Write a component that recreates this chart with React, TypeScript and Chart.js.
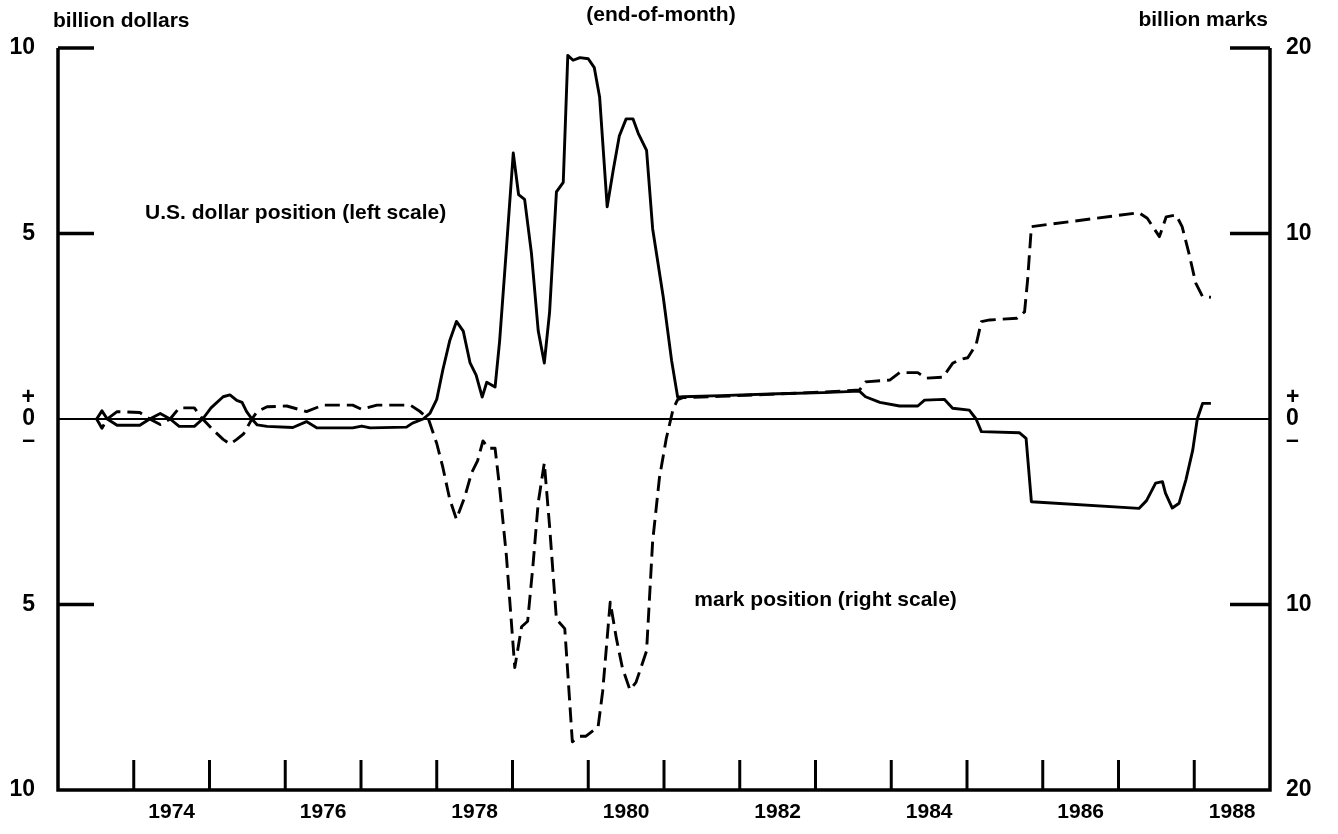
import React, { useEffect, useRef } from 'react';
import { Chart, registerables } from 'chart.js';

Chart.register(...registerables);

// U.S. dollar position, billion dollars (left scale), end-of-month
const dollarDates = [
  1973.51, 1973.58, 1973.65, 1973.78, 1974.08, 1974.21, 1974.35, 1974.48, 1974.6, 1974.8,
  1974.91, 1975.02, 1975.18, 1975.27, 1975.36, 1975.43, 1975.49, 1975.56, 1975.63, 1975.76,
  1976.1, 1976.28, 1976.42, 1976.89, 1977.01, 1977.12, 1977.6, 1977.68, 1977.82, 1977.91,
  1978.0, 1978.08, 1978.17, 1978.26, 1978.35, 1978.44, 1978.52, 1978.6, 1978.66, 1978.77,
  1978.83, 1978.92, 1979.01, 1979.08, 1979.16, 1979.25, 1979.34, 1979.42, 1979.49, 1979.58,
  1979.67, 1979.73, 1979.8, 1979.89, 1980.0, 1980.08, 1980.15, 1980.25, 1980.33, 1980.41,
  1980.5, 1980.59, 1980.66, 1980.77, 1980.85, 1980.99, 1981.1, 1981.18, 1981.25, 1981.75,
  1982.5, 1983.1, 1983.58, 1983.66, 1983.85, 1984.11, 1984.35, 1984.44, 1984.7, 1984.81,
  1985.03, 1985.12, 1985.19, 1985.69, 1985.78, 1985.85, 1987.27, 1987.37, 1987.49, 1987.58,
  1987.62, 1987.71, 1987.8, 1987.89, 1987.98, 1988.04, 1988.11, 1988.22,
];
const dollarValues = [
  0, 0.22, 0, -0.17, -0.17, 0, 0.15, 0, -0.2, -0.2,
  0, 0.3, 0.6, 0.65, 0.5, 0.45, 0.2, 0, -0.16, -0.2,
  -0.23, -0.07, -0.24, -0.24, -0.19, -0.24, -0.22, -0.11, 0, 0.15,
  0.53, 1.32, 2.1, 2.63, 2.37, 1.51, 1.18, 0.59, 0.99, 0.86,
  2.1, 4.6, 7.17, 6.05, 5.92, 4.47, 2.37, 1.51, 2.89, 6.12,
  6.38, 9.8, 9.67, 9.74, 9.71, 9.47, 8.68, 5.72, 6.71, 7.63,
  8.09, 8.09, 7.7, 7.24, 5.13, 3.29, 1.58, 0.59, 0.6, 0.63,
  0.68, 0.71, 0.75, 0.6, 0.45, 0.35, 0.35, 0.51, 0.53, 0.29,
  0.24, 0, -0.34, -0.37, -0.52, -2.23, -2.41, -2.2, -1.73, -1.69,
  -2.0, -2.4, -2.27, -1.64, -0.84, 0, 0.42, 0.42,
];

// Mark position, billion marks (right scale), end-of-month
const markDates = [
  1973.51, 1973.58, 1973.65, 1973.78, 1974.08, 1974.21, 1974.35, 1974.48, 1974.6, 1974.8,
  1974.91, 1975.05, 1975.18, 1975.27, 1975.36, 1975.45, 1975.56, 1975.63, 1975.76, 1976.02,
  1976.28, 1976.5, 1976.89, 1977.01, 1977.21, 1977.65, 1977.78, 1977.89, 1978.0, 1978.08,
  1978.17, 1978.26, 1978.37, 1978.46, 1978.54, 1978.61, 1978.68, 1978.77, 1978.83, 1978.92,
  1979.03, 1979.12, 1979.2, 1979.27, 1979.34, 1979.42, 1979.49, 1979.58, 1979.69, 1979.73,
  1979.79, 1979.89, 1979.97, 1980.13, 1980.19, 1980.29, 1980.37, 1980.45, 1980.55, 1980.63,
  1980.77, 1980.85, 1980.94, 1981.03, 1981.12, 1981.18, 1981.25, 1981.75, 1982.5, 1983.1,
  1983.58, 1983.66, 1983.98, 1984.11, 1984.35, 1984.46, 1984.68, 1984.81, 1984.9, 1985.01,
  1985.12, 1985.19, 1985.3, 1985.66, 1985.76, 1985.8, 1985.85, 1987.27, 1987.38, 1987.54,
  1987.63, 1987.76, 1987.84, 1987.93, 1988.02, 1988.11, 1988.22,
];
const markValues = [
  0, -0.5, 0, 0.4, 0.35, 0, -0.3, 0, 0.6, 0.6,
  0, -0.6, -1.1, -1.35, -1.1, -0.8, 0, 0.4, 0.66, 0.7,
  0.4, 0.75, 0.75, 0.52, 0.75, 0.75, 0.4, 0, -1.32, -2.6,
  -4.3, -5.4, -4.2, -2.9, -2.24, -1.18, -1.58, -1.58, -3.7, -7.4,
  -13.4, -11.2, -10.9, -7.9, -4.5, -2.37, -5.8, -10.8, -11.3, -13.7,
  -17.4, -17.1, -17.1, -16.6, -14.7, -9.87, -11.8, -13.4, -14.6, -14.2,
  -12.5, -6.6, -3.16, -1.05, 0.53, 1.05, 1.15, 1.22, 1.35, 1.45,
  1.56, 2.0, 2.1, 2.5, 2.5, 2.2, 2.25, 3.0, 3.2, 3.3,
  4.0, 5.25, 5.34, 5.43, 5.78, 7.49, 10.37, 11.12, 10.82, 9.83,
  10.9, 11.0, 10.37, 8.93, 7.32, 6.6, 6.56,
];

const yearLabels = [1974, 1976, 1978, 1980, 1982, 1984, 1986, 1988];
const yearTicks = [1974, 1975, 1976, 1977, 1978, 1979, 1980, 1981, 1982, 1983, 1984, 1985, 1986, 1987, 1988];
const leftTicks = [-10, -5, 0, 5, 10];
const rightTicks = [-20, -10, 0, 10, 20];

const FONT = '"Liberation Sans", Arial, Helvetica, sans-serif';

export default function App() {
  const ref = useRef<HTMLCanvasElement>(null);

  useEffect(() => {
    const canvas = ref.current;
    if (!canvas) return;

    const framePlugin = {
      id: 'frame',
      beforeDatasetsDraw(chart: any) {
        const { ctx, chartArea: a, scales } = chart;
        const y0 = scales.y.getPixelForValue(0);
        ctx.save();
        ctx.strokeStyle = '#000';
        ctx.lineWidth = 2.2;
        ctx.beginPath();
        ctx.moveTo(a.left, y0);
        ctx.lineTo(a.right, y0);
        ctx.stroke();
        ctx.restore();
      },
      afterDatasetsDraw(chart: any) {
        const { ctx, chartArea: a, scales } = chart;
        const xs = scales.x;
        const yl = scales.y;
        const yr = scales.y1;
        ctx.save();
        ctx.strokeStyle = '#000';
        ctx.fillStyle = '#000';
        ctx.lineCap = 'butt';
        ctx.lineJoin = 'miter';
        // frame
        ctx.lineWidth = 3.5;
        ctx.beginPath();
        ctx.moveTo(a.left, yl.getPixelForValue(10));
        ctx.lineTo(a.left, a.bottom);
        ctx.lineTo(a.right, a.bottom);
        ctx.lineTo(a.right, yr.getPixelForValue(20));
        ctx.stroke();
        // left inward ticks
        for (const v of leftTicks) {
          if (v === 0 || v === -10) continue;
          const py = yl.getPixelForValue(v);
          ctx.beginPath();
          ctx.moveTo(a.left, py);
          ctx.lineTo(a.left + 36, py);
          ctx.stroke();
        }
        // right inward ticks
        for (const v of rightTicks) {
          if (v === 0 || v === -20) continue;
          const py = yr.getPixelForValue(v);
          ctx.beginPath();
          ctx.moveTo(a.right, py);
          ctx.lineTo(a.right - 40, py);
          ctx.stroke();
        }
        // bottom ticks
        ctx.lineWidth = 3;
        for (const yv of yearTicks) {
          const px = xs.getPixelForValue(yv);
          ctx.beginPath();
          ctx.moveTo(px, a.bottom);
          ctx.lineTo(px, a.bottom - 30);
          ctx.stroke();
        }
        // texts
        ctx.font = `bold 21px ${FONT}`;
        ctx.textBaseline = 'middle';
        ctx.textAlign = 'left';
        ctx.fillText('billion dollars', a.left - 5, 21);
        ctx.textAlign = 'center';
        ctx.fillText('(end-of-month)', 661, 15);
        ctx.textAlign = 'right';
        ctx.fillText('billion marks', a.right - 2, 20);
        ctx.textAlign = 'left';
        ctx.fillText('U.S. dollar position (left scale)', xs.getPixelForValue(1974.15), yl.getPixelForValue(5.55));
        ctx.fillText('mark position (right scale)', xs.getPixelForValue(1981.4), yl.getPixelForValue(-4.88));
        ctx.restore();
      },
    };

    const chart = new Chart(canvas, {
      type: 'line',
      data: {
        datasets: [
          {
            label: 'U.S. dollar position (left scale)',
            data: dollarDates.map((d, i) => ({ x: d, y: dollarValues[i] })),
            yAxisID: 'y',
            borderColor: '#000',
            borderWidth: 2.9,
            pointRadius: 0,
            tension: 0,
            fill: false,
            borderJoinStyle: 'round',
          },
          {
            label: 'mark position (right scale)',
            data: markDates.map((d, i) => ({ x: d, y: markValues[i] })),
            yAxisID: 'y1',
            borderColor: '#000',
            borderWidth: 2.9,
            borderDash: [15, 7],
            pointRadius: 0,
            tension: 0,
            fill: false,
            borderJoinStyle: 'round',
          },
        ],
      },
      options: {
        responsive: false,
        animation: false,
        devicePixelRatio: 1,
        layout: { padding: { top: 48, left: 0, right: 0, bottom: 0 } },
        plugins: {
          legend: { display: false },
          tooltip: { enabled: false },
          title: { display: false },
        },
        scales: {
          x: {
            type: 'linear',
            position: 'bottom',
            min: 1973,
            max: 1989,
            grid: { display: false, drawTicks: false },
            border: { display: false },
            afterBuildTicks: (s: any) => {
              s.ticks = yearLabels.map((v) => ({ value: v + 0.5 }));
            },
            afterFit: (s: any) => {
              s.height = 44;
            },
            ticks: {
              autoSkip: false,
              maxRotation: 0,
              minRotation: 0,
              padding: 10,
              color: '#000',
              font: { family: FONT, size: 21, weight: 'bold' },
              callback: (v: any) => String(Math.floor(Number(v))),
            },
          },
          y: {
            type: 'linear',
            position: 'left',
            min: -10,
            max: 10,
            grid: { display: false, drawTicks: false },
            border: { display: false },
            afterBuildTicks: (s: any) => {
              s.ticks = leftTicks.map((v) => ({ value: v }));
            },
            afterFit: (s: any) => {
              s.width = 58;
            },
            ticks: {
              padding: 23,
              color: '#000',
              font: { family: FONT, size: 23, weight: 'bold', lineHeight: 0.92 },
              callback: (v: any) => (Number(v) === 0 ? ['+', '0', '–'] : String(Math.abs(Number(v)))),
            },
          },
          y1: {
            type: 'linear',
            position: 'right',
            min: -20,
            max: 20,
            grid: { display: false, drawTicks: false },
            border: { display: false },
            afterBuildTicks: (s: any) => {
              s.ticks = rightTicks.map((v) => ({ value: v }));
            },
            afterFit: (s: any) => {
              s.width = 68;
            },
            ticks: {
              padding: 16,
              color: '#000',
              font: { family: FONT, size: 23, weight: 'bold', lineHeight: 0.92 },
              callback: (v: any) => (Number(v) === 0 ? ['+', '0', '–'] : String(Math.abs(Number(v)))),
            },
          },
        },
      },
      plugins: [framePlugin],
    } as any);

    return () => chart.destroy();
  }, []);

  return (
    <div style={{ position: 'absolute', left: 0, top: 0, width: 1338, height: 834, background: '#fff' }}>
      <canvas ref={ref} width={1338} height={834} style={{ display: 'block' }} />
    </div>
  );
}
